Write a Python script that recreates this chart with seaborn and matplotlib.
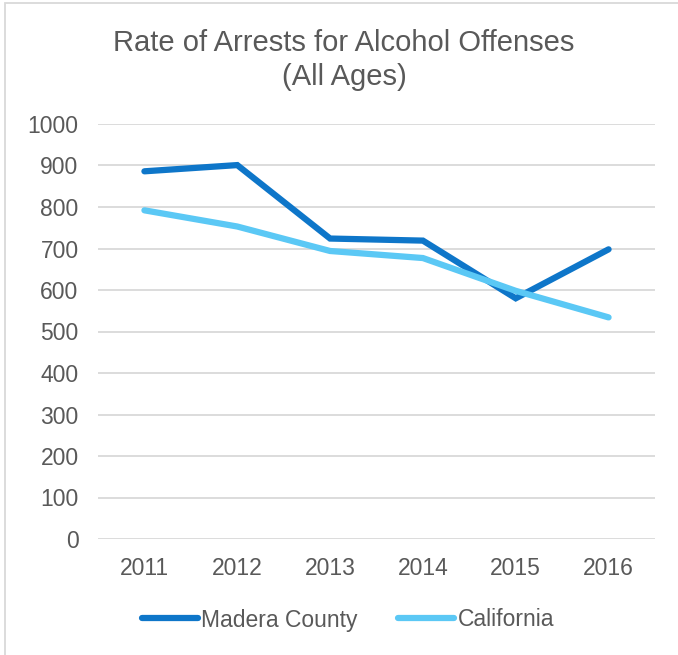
import matplotlib
matplotlib.use("Agg")
import matplotlib.pyplot as plt
import seaborn as sns
import pandas as pd
from matplotlib.patches import Rectangle
from matplotlib.lines import Line2D

years = ["2011", "2012", "2013", "2014", "2015", "2016"]
madera = [886, 901, 724, 719, 580, 698]
california = [792, 753, 694, 677, 598, 534]
series_names = ["Madera County", "California"]
colors = ["#0E76C9", "#5BC8F5"]
y_ticks = [0, 100, 200, 300, 400, 500, 600, 700, 800, 900, 1000]

df = pd.DataFrame({
    "Year": years * 2,
    "Rate": madera + california,
    "Area": [series_names[0]] * len(years) + [series_names[1]] * len(years),
})

sns.set_theme(style="white")
plt.rcParams["font.family"] = ["Liberation Sans", "DejaVu Sans"]
text_color = "#595959"

fig = plt.figure(figsize=(6.78, 6.55), dpi=100)
ax = fig.add_axes([98 / 678, 1 - 539 / 655, 557 / 678, 415 / 655])

sns.lineplot(data=df, x="Year", y="Rate", hue="Area", palette=colors,
             linewidth=4.5, ax=ax, sort=False, legend=False,
             solid_capstyle="round", solid_joinstyle="miter")

ax.set_xlim(-0.5, len(years) - 0.5)
ax.set_ylim(0, 1000)
ax.set_yticks(y_ticks)
ax.set_yticklabels([str(v) for v in y_ticks])
ax.grid(axis="y", color="#D9D9D9", linewidth=1.3)
ax.set_axisbelow(True)
for s in ax.spines.values():
    s.set_visible(False)
ax.tick_params(axis="both", length=0, labelsize=16.5, colors=text_color)
ax.tick_params(axis="y", pad=14)
ax.tick_params(axis="x", pad=13)
ax.set_xlabel("")
ax.set_ylabel("")

fig.text(344 / 678, 1 - 60 / 655, "Rate of Arrests for Alcohol Offenses\n(All Ages)",
         ha="center", va="center", fontsize=21, color=text_color, linespacing=1.25)

# legend
handles = [Line2D([0], [0], color=c, linewidth=4.5, solid_capstyle="round") for c in colors]
fig.legend(handles, series_names, loc="center", bbox_to_anchor=(348 / 678, 1 - 620 / 655),
           ncol=2, frameon=False, fontsize=16.5, handlelength=2.45, handletextpad=0.15,
           columnspacing=1.75, labelcolor=text_color)

# outer chart border
fig.patches.append(Rectangle((5 / 678, -0.05), 1.2, 1 - 3 / 655 + 0.05,
                             transform=fig.transFigure, fill=False,
                             edgecolor="#D9D9D9", linewidth=1.3))

fig.savefig("out.png", dpi=100)
